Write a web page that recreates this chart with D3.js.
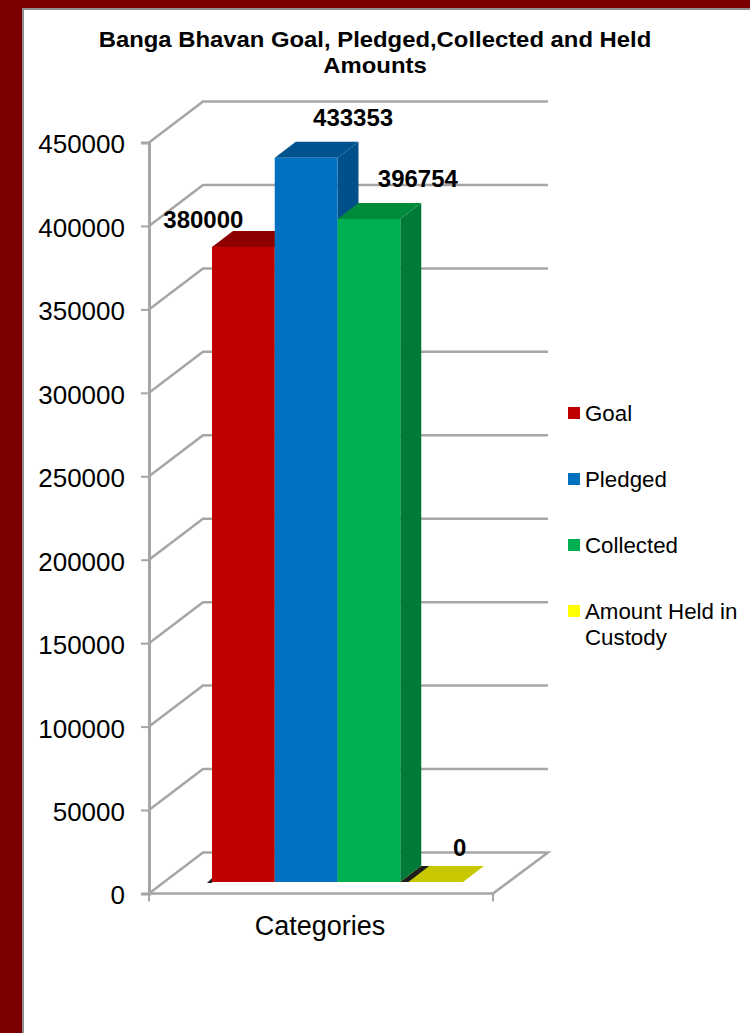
<!DOCTYPE html>
<html>
<head>
<meta charset="utf-8">
<script src="https://cdnjs.cloudflare.com/ajax/libs/d3/7.8.5/d3.min.js"></script>
<style>
  html, body { margin: 0; padding: 0; background: white; }
  text { font-family: "Liberation Sans", Arial, sans-serif; fill: #000; }
</style>
</head>
<body>
<div id="plot"></div>
<script>
// Values
const seriesNames = ["Goal", "Pledged", "Collected", "Amount Held in Custody"];
const seriesValues = [380000, 433353, 396754, 0];
const yTicks = [0, 50000, 100000, 150000, 200000, 250000, 300000, 350000, 400000, 450000];
const categoryLabel = "Categories";
const titleLines = ["Banga Bhavan Goal, Pledged,Collected and Held", "Amounts"];

const frontColors = ["#c00000", "#0070c0", "#00b050", "#c8c800"];
const topColors = ["#8e0000", "#00528f", "#008a3c", "#c8c800"];
const sideColors = ["#8e0000", "#00508a", "#007a38", "#c8c800"];
const legendColors = ["#c00000", "#0070c0", "#00b050", "#ffff00"];

const width = 750;
const height = 1033;
const grey = "#a6a6a6";

// The title is set wider than the plain font, so stretch it to match
function widen(selection, factor) {
  selection.each(function() {
    const len = this.getComputedTextLength();
    d3.select(this)
      .attr("textLength", len * factor)
      .attr("lengthAdjust", "spacingAndGlyphs");
  });
}

const svg = d3.select("#plot").append("svg")
  .attr("width", width)
  .attr("height", height)
  .style("display", "block")
  .style("background-color", "white");

// Maroon slide frame with thin grey edge
svg.append("rect").attr("width", width).attr("height", 8).attr("fill", "#7a0000");
svg.append("rect").attr("width", 22).attr("height", height).attr("fill", "#7a0000");
svg.append("rect").attr("x", 22).attr("y", 8).attr("width", width - 22).attr("height", 2).attr("fill", "#8f8f8f");
svg.append("rect").attr("x", 22).attr("y", 8).attr("width", 2).attr("height", height - 8).attr("fill", "#8f8f8f");

// Title
svg.append("g").selectAll("text")
  .data(titleLines)
  .enter()
  .append("text")
  .attr("text-anchor", "middle")
  .attr("font-weight", "bold")
  .attr("font-size", 22)
  .attr("x", 375)
  .attr("y", (d, i) => 46.5 + i * 26.5)
  .text(d => d)
  .call(widen, 1.084);

// Scales: front wall edge, plus the bars which stand further back on the floor
const left = 149;
const right = 493;
const wallDx = 54;
const wallDy = -41;
const barDx = 21;
const barDy = -16;

const yScale = d3.scaleLinear().domain([0, 450000]).range([893.5, 142.5]);
const barY = d3.scaleLinear().domain([0, 450000]).range([882, 130]);
const xScale = d3.scaleBand().domain(seriesNames).range([212, 212 + 62.75 * 4]);

// Floor
const floor = d3.path();
floor.moveTo(left, yScale(0));
floor.lineTo(left + wallDx, yScale(0) + wallDy);
floor.lineTo(right + 55, yScale(0) + wallDy);
floor.lineTo(right, yScale(0));
floor.closePath();
svg.append("path").attr("d", floor.toString()).attr("fill", "none").attr("stroke", grey).attr("stroke-width", 2.5);

// Back wall lines and left wall diagonals
const walls = svg.append("g").attr("stroke", grey).attr("stroke-width", 2.5).attr("fill", "none");
walls.selectAll("path")
  .data(yTicks.filter(d => d > 0))
  .enter()
  .append("path")
  .attr("d", d => `M${left},${yScale(d)}L${left + wallDx},${yScale(d) + wallDy}L${right + 55},${yScale(d) + wallDy}`);

// Y axis
const yAxis = d3.axisLeft(yScale).tickValues(yTicks).tickSize(8).tickPadding(16).tickFormat(d3.format("d"));
const yAxisGroup = svg.append("g")
  .attr("transform", `translate(${left},0)`)
  .call(yAxis);
yAxisGroup.selectAll("text")
  .attr("font-size", 26)
  .attr("dy", "0.4em")
  .style("font-family", '"Liberation Sans", Arial, sans-serif');
yAxisGroup.selectAll("line").attr("stroke", grey).attr("stroke-width", 2);
yAxisGroup.select(".domain").attr("stroke", grey).attr("stroke-width", 3);

// X axis end ticks and label
svg.append("g").selectAll("line")
  .data([left, right])
  .enter()
  .append("line")
  .attr("x1", d => d).attr("x2", d => d)
  .attr("y1", yScale(0)).attr("y2", yScale(0) + 8)
  .attr("stroke", grey).attr("stroke-width", 2);

svg.append("text")
  .attr("x", 320)
  .attr("y", 935)
  .attr("text-anchor", "middle")
  .attr("font-size", 27)
  .text(categoryLabel);

// 3D columns, left to right so each one overlaps the side of the one before
const bars = svg.append("g").selectAll("g")
  .data(d3.range(seriesNames.length))
  .enter()
  .append("g");

bars.append("path") // side
  .attr("fill", i => sideColors[i])
  .attr("d", i => {
    const x1 = xScale(seriesNames[i]) + xScale.bandwidth();
    const top = barY(seriesValues[i]);
    return `M${x1},${top}L${x1 + barDx},${top + barDy}L${x1 + barDx},${882 + barDy}L${x1},882Z`;
  });

bars.append("path") // top
  .attr("fill", i => topColors[i])
  .attr("d", i => {
    const x0 = xScale(seriesNames[i]);
    const x1 = x0 + xScale.bandwidth();
    const top = barY(seriesValues[i]);
    return `M${x0},${top}L${x0 + barDx},${top + barDy}L${x1 + barDx},${top + barDy}L${x1},${top}Z`;
  });

bars.append("rect") // front
  .attr("x", i => xScale(seriesNames[i]))
  .attr("y", i => barY(seriesValues[i]))
  .attr("width", xScale.bandwidth())
  .attr("height", i => barY(0) - barY(seriesValues[i]))
  .attr("fill", i => frontColors[i]);

// Small dark shadows at the foot of the columns
svg.append("path").attr("d", `M207,883L212,878L212,883Z`).attr("fill", "#222");
const footShadowX = xScale("Amount Held in Custody");
svg.append("path")
  .attr("d", `M${footShadowX},882L${footShadowX + barDx},${882 + barDy}L${footShadowX + barDx + 8},${882 + barDy}L${footShadowX + 8},882Z`)
  .attr("fill", "#1c1c1c");

// Data labels sit off to the side of each column, as in the original
const labelShiftX = [-40, 47, 49, 28];
const labelShiftY = [-19, -32, -32, -26];
svg.append("g").selectAll("text")
  .data(seriesValues)
  .enter()
  .append("text")
  .attr("x", (d, i) => xScale(seriesNames[i]) + xScale.bandwidth() / 2 + labelShiftX[i])
  .attr("y", (d, i) => barY(d) + labelShiftY[i])
  .attr("text-anchor", "middle")
  .attr("font-weight", "bold")
  .attr("font-size", 24)
  .text(d => d);

// Legend
const legendY = d3.scalePoint().domain(seriesNames).range([407, 605]);
const legend = svg.append("g").selectAll("g")
  .data(seriesNames)
  .enter()
  .append("g")
  .attr("transform", d => `translate(568,${legendY(d)})`);

legend.append("rect")
  .attr("width", 12)
  .attr("height", 12)
  .attr("fill", (d, i) => legendColors[i]);

const legendLines = d => d === "Amount Held in Custody" ? ["Amount Held in", "Custody"] : [d];
legend.selectAll("text")
  .data(d => legendLines(d))
  .enter()
  .append("text")
  .attr("font-size", 22.3)
  .attr("x", 17)
  .attr("y", (d, i) => 14 + i * 25.5)
  .text(d => d);
</script>
</body>
</html>
